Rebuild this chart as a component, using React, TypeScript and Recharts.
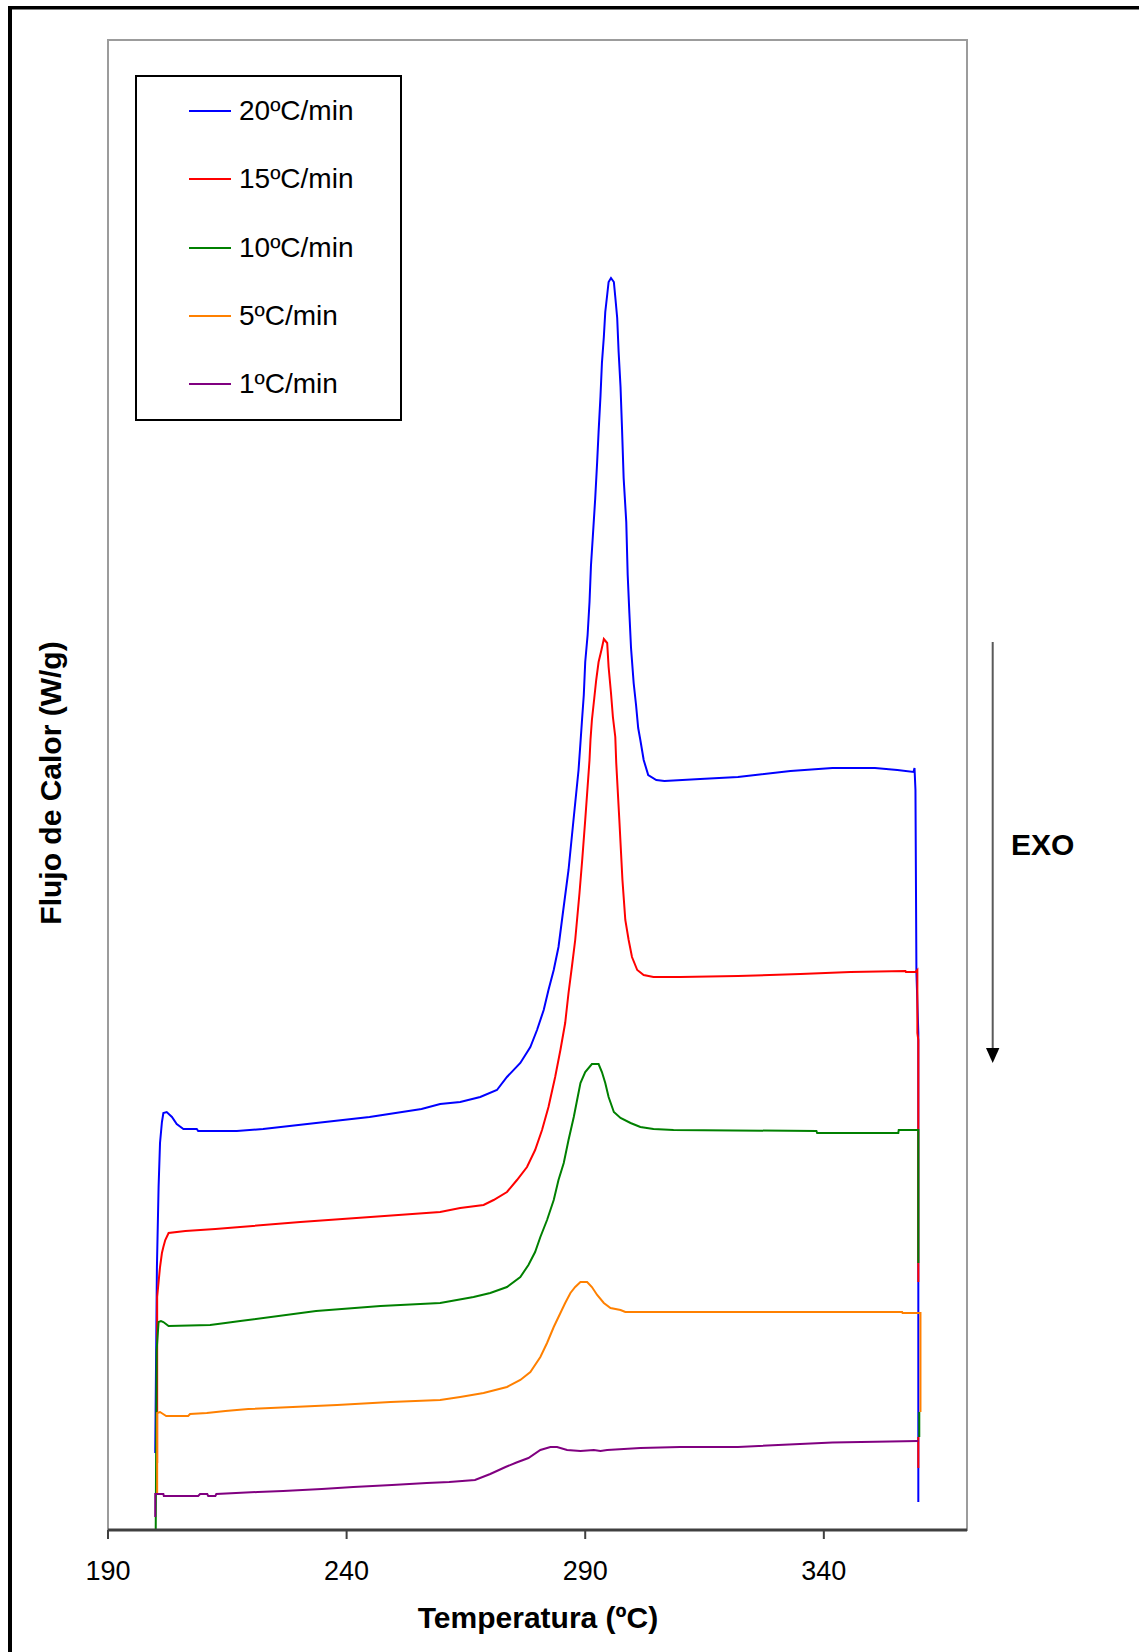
import { LineChart, Line, XAxis, YAxis, Legend, ReferenceArea } from 'recharts'

type Point = [number, number | null]

const rateLabels = ['20ºC/min', '15ºC/min', '10ºC/min', '5ºC/min', '1ºC/min']
const rateColors = ['#0000ff', '#ff0000', '#008000', '#ff8000', '#800080']
const tempTicks = [190, 240, 290, 340]

// [temperature ºC, heat flow W/g]; null breaks the trace
const curve20: Point[] = [
  [199.9, 0.77], [200.25, 2.63], [200.6, 3.43], [200.9, 3.87], [201.3, 4.08], [201.6, 4.17],
  [202.3, 4.18], [203.4, 4.13], [204.4, 4.06], [205.8, 4.01], [208.6, 4.01], [208.9, 3.99],
  [217.0, 3.99], [222.5, 4.01], [233.6, 4.07], [244.8, 4.13], [255.7, 4.21], [259.6, 4.26],
  [263.8, 4.28], [268.0, 4.33], [271.5, 4.40], [273.6, 4.53], [276.4, 4.67], [278.5, 4.83],
  [279.9, 5.0], [281.3, 5.2], [282.3, 5.4], [283.4, 5.6], [284.4, 5.83], [285.4, 6.2],
  [286.5, 6.6], [287.5, 7.08], [288.6, 7.6], [289.0, 7.87], [289.3, 8.08], [289.7, 8.35],
  [290.0, 8.68], [290.5, 8.95], [290.9, 9.28], [291.2, 9.64], [291.6, 9.94], [292.1, 10.32],
  [292.5, 10.68], [292.8, 10.98], [293.2, 11.34], [293.5, 11.67], [293.9, 11.93], [294.2, 12.18],
  [294.6, 12.35], [294.9, 12.48], [295.4, 12.52], [296.0, 12.48], [296.3, 12.33], [296.7, 12.12],
  [297.0, 11.78], [297.4, 11.43], [297.7, 11.03], [298.05, 10.52], [298.6, 10.08], [298.9, 9.55],
  [299.25, 9.17], [299.6, 8.82], [300.15, 8.47], [300.65, 8.25], [301.1, 8.02], [301.55, 7.9],
  [302.25, 7.7], [303.2, 7.55], [304.9, 7.5], [306.6, 7.49], [314.1, 7.51], [322.0, 7.53],
  [333.0, 7.59], [341.8, 7.62], [350.7, 7.62], [355.4, 7.6], [358.8, 7.58], [359.0, 7.62],
  [359.2, 7.4], [359.4, 5.58], [359.8, 4.97], [359.8, 0.28],
]

const curve15: Point[] = [
  [200.3, 0.67], [200.3, 2.33], [200.9, 2.63], [201.3, 2.77], [201.6, 2.83], [202.0, 2.9],
  [202.7, 2.97], [206.2, 2.99], [212.5, 3.01], [217.7, 3.03], [230.3, 3.08], [245.0, 3.13],
  [259.6, 3.18], [263.8, 3.22], [268.7, 3.25], [270.8, 3.3], [273.6, 3.38], [275.7, 3.5],
  [277.8, 3.63], [279.5, 3.8], [280.95, 4.0], [282.3, 4.23], [283.7, 4.53], [284.8, 4.8],
  [285.8, 5.07], [286.5, 5.37], [287.2, 5.63], [287.9, 5.9], [288.8, 6.37], [289.4, 6.72],
  [290.0, 7.1], [290.45, 7.4], [290.9, 7.7], [291.1, 7.9], [291.4, 8.1], [291.9, 8.32],
  [292.3, 8.5], [292.8, 8.68], [293.4, 8.8], [293.9, 8.91], [294.6, 8.87], [294.9, 8.63],
  [295.4, 8.37], [295.8, 8.13], [296.3, 7.93], [296.5, 7.67], [297.15, 7.1], [297.8, 6.5],
  [298.4, 6.1], [299.1, 5.9], [299.8, 5.73], [300.9, 5.6], [302.25, 5.55], [304.3, 5.53],
  [309.9, 5.53], [322.0, 5.54], [335.1, 5.56], [345.6, 5.58], [357.1, 5.59], [357.2, 5.58],
  [359.2, 5.58], [359.6, 5.6], [359.6, 4.97], [359.8, 4.9], [359.8, 2.48],
  [359.8, null], [359.8, 0.93], [359.8, 0.62],
]

const curve10: Point[] = [
  [200.0, 0.0], [200.2, 1.8], [200.6, 2.08], [201.1, 2.09], [201.6, 2.08], [202.7, 2.04],
  [211.4, 2.05], [214.6, 2.07], [217.7, 2.09], [233.6, 2.19], [247.1, 2.24], [259.6, 2.27],
  [263.1, 2.3], [266.6, 2.33], [270.1, 2.37], [273.6, 2.43], [276.4, 2.53], [278.1, 2.65],
  [279.5, 2.78], [280.6, 2.93], [282.0, 3.1], [283.4, 3.3], [284.4, 3.5], [285.5, 3.67],
  [286.5, 3.9], [287.6, 4.13], [288.3, 4.3], [289.0, 4.47], [290.0, 4.58], [291.4, 4.66],
  [292.8, 4.66], [293.5, 4.58], [294.2, 4.47], [294.9, 4.33], [296.0, 4.18], [297.4, 4.12],
  [299.5, 4.07], [301.55, 4.03], [304.3, 4.01], [308.5, 4.0], [338.45, 3.99], [338.6, 3.97],
  [355.6, 3.97], [355.7, 4.0], [359.8, 4.0], [359.8, 2.67], [359.8, null], [360.0, 1.18],
  [360.0, 0.93],
]

const curve5: Point[] = [
  [200.3, 0.35], [200.3, 1.17], [200.9, 1.18], [202.2, 1.14], [206.8, 1.14], [207.2, 1.16],
  [210.7, 1.17], [214.6, 1.19], [219.4, 1.21], [238.0, 1.25], [249.2, 1.28], [259.6, 1.3],
  [263.8, 1.33], [268.7, 1.37], [273.6, 1.43], [276.4, 1.5], [278.5, 1.58], [280.6, 1.73],
  [282.0, 1.87], [283.4, 2.03], [284.8, 2.17], [285.8, 2.27], [286.9, 2.37], [287.9, 2.43],
  [289.0, 2.48], [290.4, 2.48], [291.4, 2.43], [292.5, 2.35], [293.9, 2.27], [295.3, 2.22],
  [297.4, 2.2], [298.4, 2.18], [356.4, 2.18], [356.5, 2.17], [360.25, 2.17], [360.25, 1.18],
]

const curve1: Point[] = [
  [199.9, 0.13], [199.9, 0.36], [201.6, 0.36], [201.7, 0.34], [208.9, 0.34], [209.3, 0.36],
  [210.8, 0.36], [211.0, 0.34], [212.5, 0.34], [212.7, 0.36], [221.4, 0.38], [226.7, 0.39],
  [234.8, 0.41], [241.4, 0.43], [249.5, 0.45], [256.8, 0.47], [261.5, 0.48], [266.9, 0.5],
  [270.1, 0.56], [273.3, 0.63], [275.6, 0.675], [278.1, 0.72], [280.6, 0.8], [282.7, 0.83],
  [284.1, 0.83], [286.2, 0.8], [289.0, 0.79], [291.8, 0.8], [293.2, 0.79], [294.6, 0.8],
  [301.55, 0.82], [309.9, 0.83], [322.0, 0.83], [341.8, 0.875], [359.8, 0.89],
]

const curves = [curve20, curve15, curve10, curve5, curve1]

const FONT = '"Liberation Sans", Arial, Helvetica, sans-serif'

const toRows = (pts: Point[]) => pts.map(([t, v]) => ({ t, v }))

function LegendBox() {
  return (
    <div
      style={{
        width: 267,
        height: 346,
        boxSizing: 'border-box',
        border: '2px solid #000',
        background: '#fff',
        fontFamily: FONT,
      }}
    >
      {rateLabels.map((label, i) => (
        <div key={label} style={{ height: 68.3, display: 'flex', alignItems: 'center' }}>
          <span style={{ marginLeft: 52, width: 42, height: 2, background: rateColors[i] }} />
          <span style={{ marginLeft: 8, fontSize: 28, lineHeight: 1, color: '#000' }}>{label}</span>
        </div>
      ))}
    </div>
  )
}

export default function App() {
  return (
    <div
      style={{
        position: 'absolute',
        left: 0,
        top: 0,
        width: 1139,
        height: 1652,
        background: '#fff',
        fontFamily: FONT,
      }}
    >
      <LineChart width={1139} height={1652} margin={{ top: 40, right: 172, bottom: 62, left: 108 }}>
        <ReferenceArea x1={190} x2={370} y1={0} y2={14.9} fill="none" stroke="#9c9c9c" strokeWidth={2} />
        <XAxis
          type="number"
          dataKey="t"
          domain={[190, 370]}
          ticks={tempTicks}
          allowDataOverflow
          height={60}
          tickSize={9}
          tickMargin={22}
          axisLine={{ stroke: '#404040', strokeWidth: 3 }}
          tickLine={{ stroke: '#404040', strokeWidth: 2 }}
          tick={{ fontSize: 27, fill: '#000', fontFamily: FONT }}
        />
        <YAxis type="number" domain={[0, 14.9]} allowDataOverflow hide />
        <Legend
          layout="vertical"
          align="center"
          verticalAlign="middle"
          wrapperStyle={{ left: 135, top: 75, width: 267, height: 346 }}
          content={() => <LegendBox />}
        />
        {curves.map((c, i) => (
          <Line
            key={rateLabels[i]}
            name={rateLabels[i]}
            data={toRows(c)}
            dataKey="v"
            type="linear"
            stroke={rateColors[i]}
            strokeWidth={2}
            dot={false}
            activeDot={false}
            isAnimationActive={false}
          />
        ))}
      </LineChart>

      <svg
        width={1139}
        height={1652}
        style={{ position: 'absolute', left: 0, top: 0, pointerEvents: 'none' }}
        fontFamily={FONT}
      >
        {/* outer frame */}
        <line x1={10} y1={6} x2={10} y2={1652} stroke="#000" strokeWidth={4} />
        <line x1={8} y1={7.7} x2={1139} y2={7.7} stroke="#000" strokeWidth={3.5} />

        <text transform="translate(61 783) rotate(-90)" textAnchor="middle" fontSize={30} fontWeight="bold" fill="#000">
          Flujo de Calor (W/g)
        </text>
        <text x={538} y={1628} textAnchor="middle" fontSize={30} fontWeight="bold" fill="#000">
          Temperatura (ºC)
        </text>

        {/* exotherm direction */}
        <line x1={992.7} y1={642} x2={992.7} y2={1050} stroke="#5a5a5a" strokeWidth={2} />
        <polygon points="986,1048 999.4,1048 992.7,1063" fill="#000" />
        <text x={1011} y={855} fontSize={30} fontWeight="bold" fill="#000">
          EXO
        </text>
      </svg>
    </div>
  )
}
